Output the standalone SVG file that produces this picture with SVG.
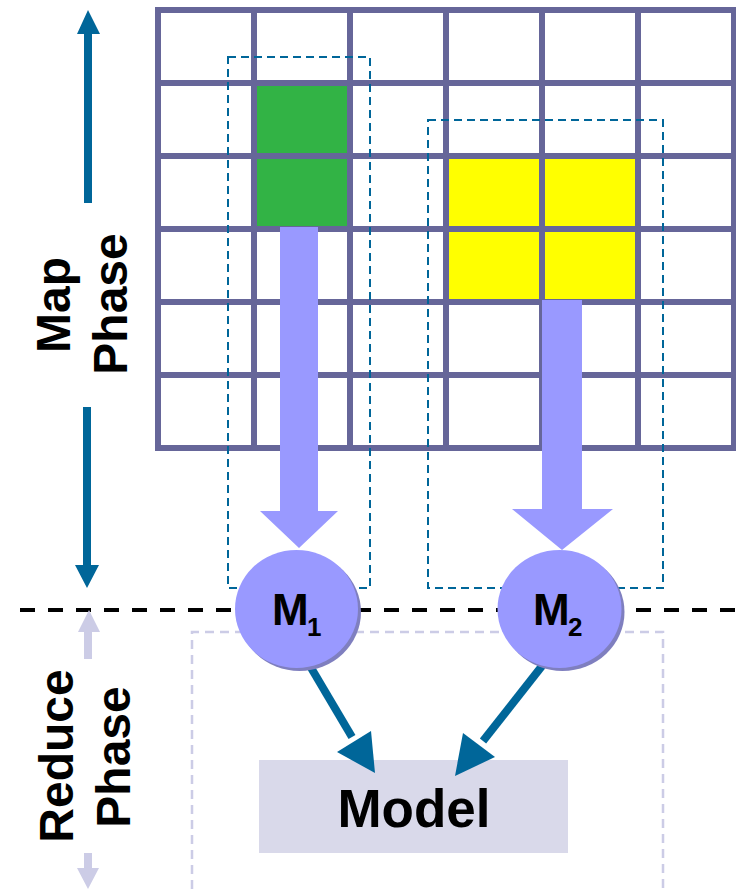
<svg xmlns="http://www.w3.org/2000/svg" width="736" height="889" viewBox="0 0 736 889">
<defs>
<style>
.grid{stroke:#666699;stroke-width:6;fill:none}
.dashblue{fill:none;stroke:#006699;stroke-width:2;stroke-dasharray:8 5}
.dashlav{fill:none;stroke:#CCCCE6;stroke-width:2.5;stroke-dasharray:9 6}
.big{fill:#9999FF}
.lbl{font-family:"Liberation Sans",Arial,sans-serif;font-weight:bold;fill:#000}
.phase{font-size:48px}
.conn{stroke:#006699;stroke-width:8;fill:none}
.head{fill:#006699}
.lavarrow{fill:#CCCCE6}
</style>
</defs>
<rect width="736" height="889" fill="#fff"/>
<g id="grid">
<rect x="254" y="83" width="96" height="146" fill="#32B345"/>
<rect x="446" y="156" width="192" height="146" fill="#FFFF00"/>
<path class="grid" d="M158 7V451M254 7V451M350 7V451M446 7V451M542 7V451M638 7V451M734 7V451M155 10H737M155 83H737M155 156H737M155 229H737M155 302H737M155 375H737M155 448H737"/>
</g>
<g id="map-boxes">
<rect class="dashblue" x="228" y="57" width="142" height="531"/>
<rect class="dashblue" x="428" y="120" width="235" height="468"/>
</g>
<g id="reduce-box">
<path class="dashlav" d="M192 889V632H663V889"/>
</g>
<g id="divider">
<line x1="20" y1="610" x2="736" y2="610" stroke="#000" stroke-width="4" stroke-dasharray="15 13"/>
</g>
<g id="map-phase">
<path class="head" d="M84 203V34H77L88 10L100 34H92V203Z"/>
<path class="head" d="M83 407H91V565H99L87 588L75 565H83Z"/>
<text class="lbl phase" transform="translate(70,305) rotate(-90)" text-anchor="middle">Map</text>
<text class="lbl phase" transform="translate(127,304) rotate(-90)" text-anchor="middle">Phase</text>
</g>
<g id="reduce-phase">
<path class="lavarrow" d="M84 659V632H78L89 610L100 632H92V659Z"/>
<path class="lavarrow" d="M84 853H92V868H99L88 889L77 868H84Z"/>
<text class="lbl phase" transform="translate(73,756) rotate(-90)" text-anchor="middle">Reduce</text>
<text class="lbl phase" transform="translate(130,757) rotate(-90)" text-anchor="middle">Phase</text>
</g>
<g id="model">
<rect x="259" y="760" width="309" height="93" fill="#D9D9EA"/>
<text class="lbl" x="414" y="827" font-size="53" text-anchor="middle">Model</text>
</g>
<g id="connectors">
<path class="big" d="M280 227H318V511H338L299 548L260 511H280Z"/>
<path class="big" d="M542 300H582V509H613L562 550L512 509H542Z"/>
<line class="conn" x1="310" y1="666" x2="352" y2="737"/>
<path class="head" d="M375 773L337 752L371 731Z"/>
<line class="conn" x1="542" y1="666" x2="483" y2="741"/>
<path class="head" d="M455 776L463 733L495 757Z"/>
</g>
<g id="m1">
<ellipse cx="299.5" cy="612" rx="61.5" ry="59" fill="#7F7FBF"/>
<ellipse cx="296.5" cy="609" rx="61.5" ry="59" fill="#9999FF"/>
<text class="lbl" x="272" y="625" font-size="44">M</text>
<text class="lbl" x="307" y="636" font-size="26">1</text>
</g>
<g id="m2">
<ellipse cx="562.5" cy="612" rx="62" ry="59" fill="#7F7FBF"/>
<ellipse cx="559.5" cy="609" rx="62" ry="59" fill="#9999FF"/>
<text class="lbl" x="533" y="625" font-size="44">M</text>
<text class="lbl" x="568" y="636" font-size="26">2</text>
</g>
</svg>
